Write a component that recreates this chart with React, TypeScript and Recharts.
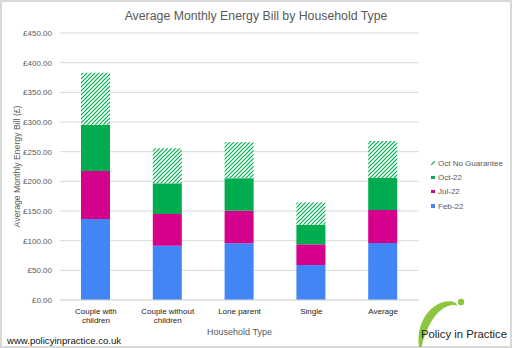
import React from "react";
import { BarChart, Bar, XAxis, YAxis, CartesianGrid, Legend } from "recharts";

const categories = [
  "Couple with children",
  "Couple without children",
  "Lone parent",
  "Single",
  "Average",
];
// bill level at each point in time (£ per month)
const feb22 = [136.5, 91.6, 95.5, 59, 96];
const jul22 = [217.4, 145, 150.6, 93.8, 151.7];
const oct22 = [295.5, 196.6, 205, 127, 205.6];
const octNoGuarantee = [383, 255.6, 266, 164.6, 268];
const yTicks = [0, 50, 100, 150, 200, 250, 300, 350, 400, 450];
const legendOrder = ["noGuarantee", "oct", "jul", "feb"];

const BLUE = "#4285f4";
const MAGENTA = "#d5008c";
const GREEN = "#00ac4e";
const GREY = "#595959";
const FONT = "'Liberation Sans', Arial, sans-serif";

// stacked segments = rise from the previous level
const data = categories.map((name, i) => ({
  name,
  feb: feb22[i],
  jul: jul22[i] - feb22[i],
  oct: oct22[i] - jul22[i],
  noGuarantee: octNoGuarantee[i] - oct22[i],
}));

// long labels: last word goes on a second line
const CategoryTick = (props: any) => {
  const { x, y, payload } = props;
  const words = String(payload.value).split(" ");
  const lines = words.length > 2 ? [words.slice(0, -1).join(" "), words[words.length - 1]] : [payload.value];
  return (
    <text x={x} y={y + 5.5} textAnchor="middle" fontSize={8} fill="#222" fontFamily={FONT}>
      {lines.map((l: string, i: number) => (
        <tspan key={i} x={x} dy={i === 0 ? 0 : 9}>
          {l}
        </tspan>
      ))}
    </text>
  );
};

const LegendContent = (props: any) => {
  const items = [...(props.payload || [])].sort(
    (a: any, b: any) => legendOrder.indexOf(a.dataKey) - legendOrder.indexOf(b.dataKey)
  );
  return (
    <div style={{ fontFamily: FONT, fontSize: 8, color: GREY }}>
      {items.map((item: any) => (
        <div
          key={item.value}
          style={{ height: 14.3, display: "flex", alignItems: "center", whiteSpace: "nowrap" }}
        >
          {item.dataKey === "noGuarantee" ? (
            <svg width={4} height={4} style={{ marginRight: 3 }}>
              <line x1={0} y1={4} x2={4} y2={0} stroke={GREEN} strokeWidth={1.2} />
            </svg>
          ) : (
            <span
              style={{ width: 3.5, height: 3.5, background: item.color, marginRight: 3.5, display: "inline-block" }}
            />
          )}
          {item.value}
        </div>
      ))}
    </div>
  );
};

export default function App() {
  return (
    <div style={{ position: "absolute", left: 0, top: 0, width: 512, height: 348, background: "#fff" }}>
      <BarChart
        width={512}
        height={348}
        data={data}
        margin={{ top: 33, right: 93, bottom: 8, left: 8 }}
        style={{ fontFamily: FONT }}
      >
        <defs>
          <pattern id="hatch" patternUnits="userSpaceOnUse" width={4} height={4}>
            <rect width={4} height={4} fill="#fff" />
            <path d="M-1,1 l2,-2 M0,4 l4,-4 M3,5 l2,-2" stroke={GREEN} strokeWidth={1.2} />
          </pattern>
        </defs>
        <CartesianGrid vertical={false} stroke="#d9d9d9" />
        <XAxis
          dataKey="name"
          height={40}
          tickLine={false}
          axisLine={{ stroke: "#d9d9d9" }}
          tick={<CategoryTick />}
          interval={0}
          label={{
            value: "Household Type",
            position: "insideBottom",
            offset: 5,
            fontSize: 9,
            fill: GREY,
          }}
        />
        <YAxis
          width={52}
          domain={[0, 450]}
          ticks={yTicks}
          tickFormatter={(v: number) => `£${v.toFixed(2)}`}
          tickLine={false}
          axisLine={false}
          tick={{ fontSize: 8, fill: GREY }}
          label={{
            value: "Average Monthly Energy Bill (£)",
            angle: -90,
            position: "insideLeft",
            offset: 9,
            fontSize: 8.7,
            fill: GREY,
            style: { textAnchor: "middle" },
          }}
        />
        <Legend
          layout="vertical"
          align="center"
          verticalAlign="middle"
          content={<LegendContent />}
          wrapperStyle={{ left: 431, top: 156, width: 80 }}
        />
        <Bar dataKey="feb" name="Feb-22" stackId="a" fill={BLUE} barSize={29} isAnimationActive={false} />
        <Bar dataKey="jul" name="Jul-22" stackId="a" fill={MAGENTA} barSize={29} isAnimationActive={false} />
        <Bar dataKey="oct" name="Oct-22" stackId="a" fill={GREEN} barSize={29} isAnimationActive={false} />
        <Bar
          dataKey="noGuarantee"
          name="Oct No Guarantee"
          stackId="a"
          fill="url(#hatch)"
          barSize={29}
          isAnimationActive={false}
        />
      </BarChart>
      <svg
        width={512}
        height={348}
        style={{ position: "absolute", left: 0, top: 0, pointerEvents: "none" }}
      >
        <rect x={1} y={1} width={510} height={346} fill="none" stroke="#d9d9d9" strokeWidth={2} />
        <text x={256} y={19.5} textAnchor="middle" fontFamily={FONT} fontSize={12.3} fill={GREY}>
          Average Monthly Energy Bill by Household Type
        </text>
        <text x={7} y={343.5} fontFamily={FONT} fontSize={9.6} fill="#111">
          www.policyinpractice.co.uk
        </text>
        <path
          d="M419,347 C416,326 427,305 446,301.5 C452,300.5 457,302 457,306 C453,303 432,305 421.5,347 Z"
          fill="#8dc63f"
        />
        <circle cx={461} cy={302} r={3.2} fill="#8dc63f" />
        <text x={421} y={337.7} fontFamily={FONT} fontSize={11.3} fill="#222">
          Policy in Practice
        </text>
      </svg>
    </div>
  );
}
